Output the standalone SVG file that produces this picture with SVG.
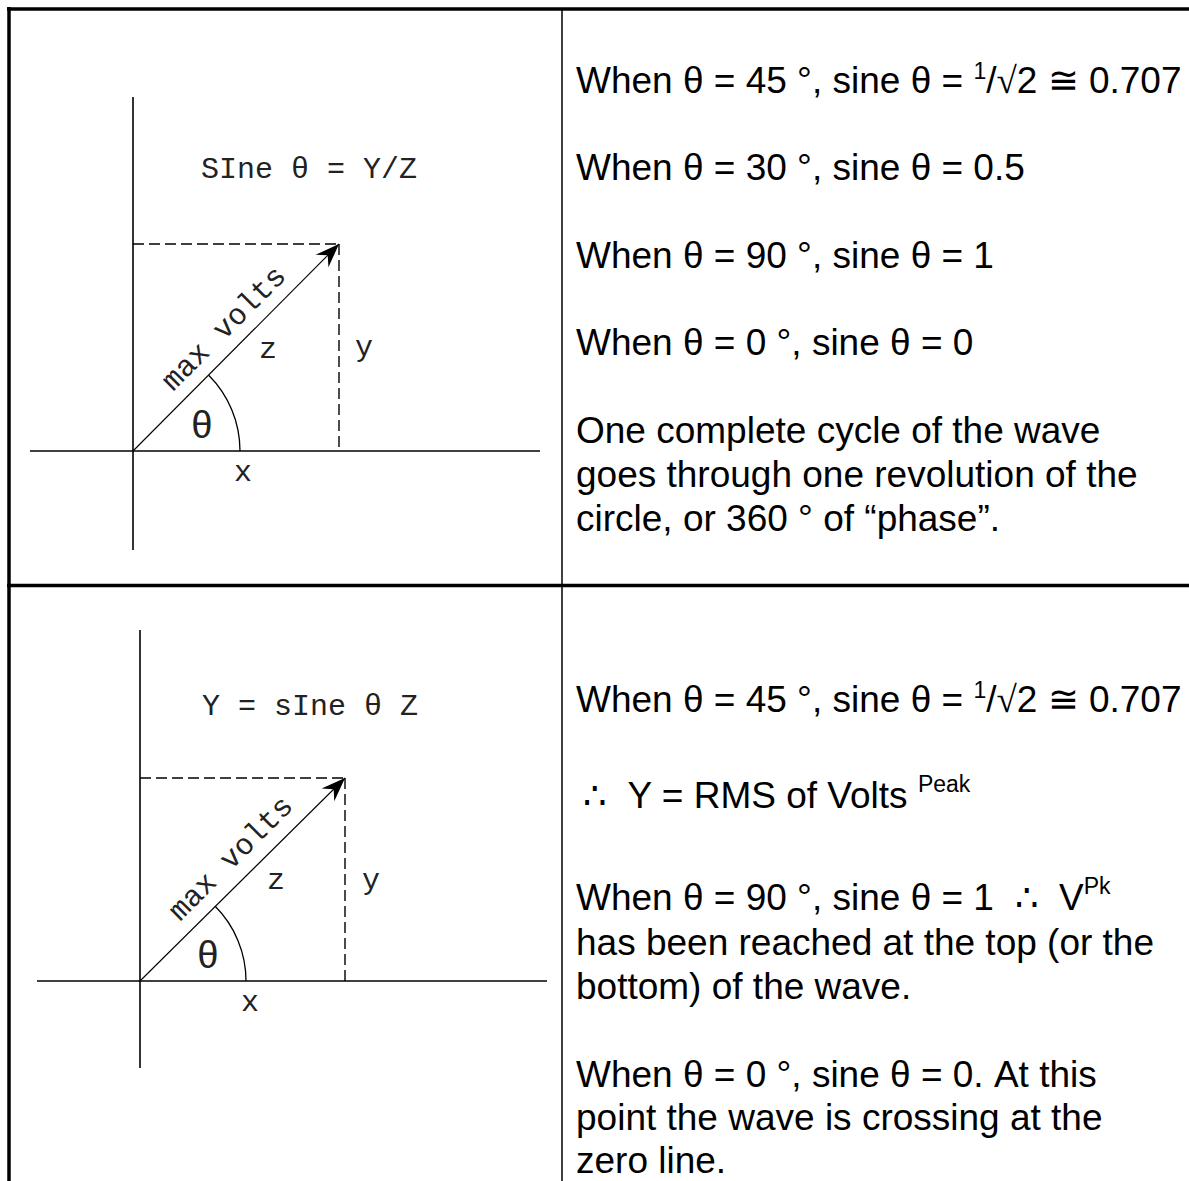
<svg xmlns="http://www.w3.org/2000/svg" width="1189" height="1181" viewBox="0 0 1189 1181">
<defs>
<style>
.t{font-family:"Liberation Sans",Arial,sans-serif;font-size:37px;fill:#000}
.sup{font-size:23px}
.sym{font-family:"Liberation Serif","DejaVu Serif",serif}
.cad{font-family:"Liberation Mono","DejaVu Sans Mono",monospace;font-size:30px;fill:#222}
.big{font-size:38px}
.ax{stroke:#000;stroke-width:1.6;fill:none}
.dash{stroke:#000;stroke-width:1.4;stroke-dasharray:11 5;fill:none}
.vec{stroke:#000;stroke-width:1.1;fill:none}
.arc{stroke:#000;stroke-width:1.3;fill:none}
.rule{stroke:#000;fill:none}
</style>
<marker id="ah" viewBox="-25 -10 27 20" markerWidth="27" markerHeight="20" refX="0" refY="0" orient="auto" markerUnits="userSpaceOnUse">
<path d="M0,0 L-24,-9 L-16,0 L-24,9 Z" fill="#000"/>
</marker>
</defs>
<rect width="1189" height="1181" fill="#fff"/>

<g id="table">
<line class="rule" x1="7" y1="9" x2="1189" y2="9" stroke-width="3.5"/>
<line class="rule" x1="9" y1="7" x2="9" y2="1181" stroke-width="3.5"/>
<line class="rule" x1="562" y1="9" x2="562" y2="1181" stroke-width="1.5"/>
<line class="rule" x1="7" y1="585.5" x2="1189" y2="585.5" stroke-width="3.5"/>
</g>

<g id="diagram-top">
<line class="ax" x1="133" y1="97" x2="133" y2="550"/>
<line class="ax" x1="30" y1="451" x2="540" y2="451"/>
<path class="dash" d="M133,244 H339"/>
<path class="dash" d="M339,244 V451"/>
<path class="arc" d="M240,451 A107,107 0 0 0 208.7,375.3"/>
<text class="cad" x="201" y="178">SIne θ = Y/Z</text>
<text class="cad" font-size="32" transform="translate(173,392) rotate(-45)">max volts</text>
<text class="cad" x="268" y="358" text-anchor="middle">z</text>
<text class="cad" x="364" y="356" text-anchor="middle">y</text>
<text class="cad big" x="202" y="438" text-anchor="middle">θ</text>
<text class="cad" x="243" y="481" text-anchor="middle">x</text>
</g>

<g id="diagram-bottom">
<line class="ax" x1="140" y1="630" x2="140" y2="1068"/>
<line class="ax" x1="37" y1="981" x2="547" y2="981"/>
<path class="dash" d="M140,778 H345"/>
<path class="dash" d="M345,778 V981"/>
<path class="arc" d="M246,981 A106,106 0 0 0 214.95,906.05"/>
<text class="cad" x="202" y="715">Y = sIne θ Z</text>
<text class="cad" font-size="32" transform="translate(180,922) rotate(-45)">max volts</text>
<text class="cad" x="276" y="889" text-anchor="middle">z</text>
<text class="cad" x="371" y="889" text-anchor="middle">y</text>
<text class="cad big" x="208" y="968" text-anchor="middle">θ</text>
<text class="cad" x="250" y="1011" text-anchor="middle">x</text>
</g>

<g id="connectors">
<path class="vec" d="M133,451 L339,244" marker-end="url(#ah)"/>
<path class="vec" d="M140,981 L345,778" marker-end="url(#ah)"/>
</g>

<g id="text-top">
<text class="t" x="576" y="93">When θ = 45 °, sine θ = <tspan class="sup" dy="-14">1</tspan><tspan dy="14">/</tspan><tspan class="sym">√</tspan>2 <tspan class="sym">≅</tspan> 0.707</text>
<text class="t" x="576" y="180">When θ = 30 °, sine θ = 0.5</text>
<text class="t" x="576" y="268">When θ = 90 °, sine θ = 1</text>
<text class="t" x="576" y="355">When θ = 0 °, sine θ = 0</text>
<text class="t" x="576" y="443">One complete cycle of the wave</text>
<text class="t" x="576" y="487">goes through one revolution of the</text>
<text class="t" x="576" y="531">circle, or 360 ° of “phase”.</text>
</g>

<g id="text-bottom">
<text class="t" x="576" y="712">When θ = 45 °, sine θ = <tspan class="sup" dy="-14">1</tspan><tspan dy="14">/</tspan><tspan class="sym">√</tspan>2 <tspan class="sym">≅</tspan> 0.707</text>
<text class="t" x="583" y="808"><tspan class="sym">∴</tspan>&#160;&#160;Y = RMS of Volts <tspan class="sup" dy="-16">Peak</tspan></text>
<text class="t" x="576" y="910">When θ = 90 °, sine θ = 1&#160;&#160;<tspan class="sym">∴</tspan>&#160;&#160;V<tspan class="sup" dy="-16">Pk</tspan></text>
<text class="t" x="576" y="955">has been reached at the top (or the</text>
<text class="t" x="576" y="999">bottom) of the wave.</text>
<text class="t" x="576" y="1087">When θ = 0 °, sine θ = 0. At this</text>
<text class="t" x="576" y="1130">point the wave is crossing at the</text>
<text class="t" x="576" y="1173">zero line.</text>
</g>
</svg>
